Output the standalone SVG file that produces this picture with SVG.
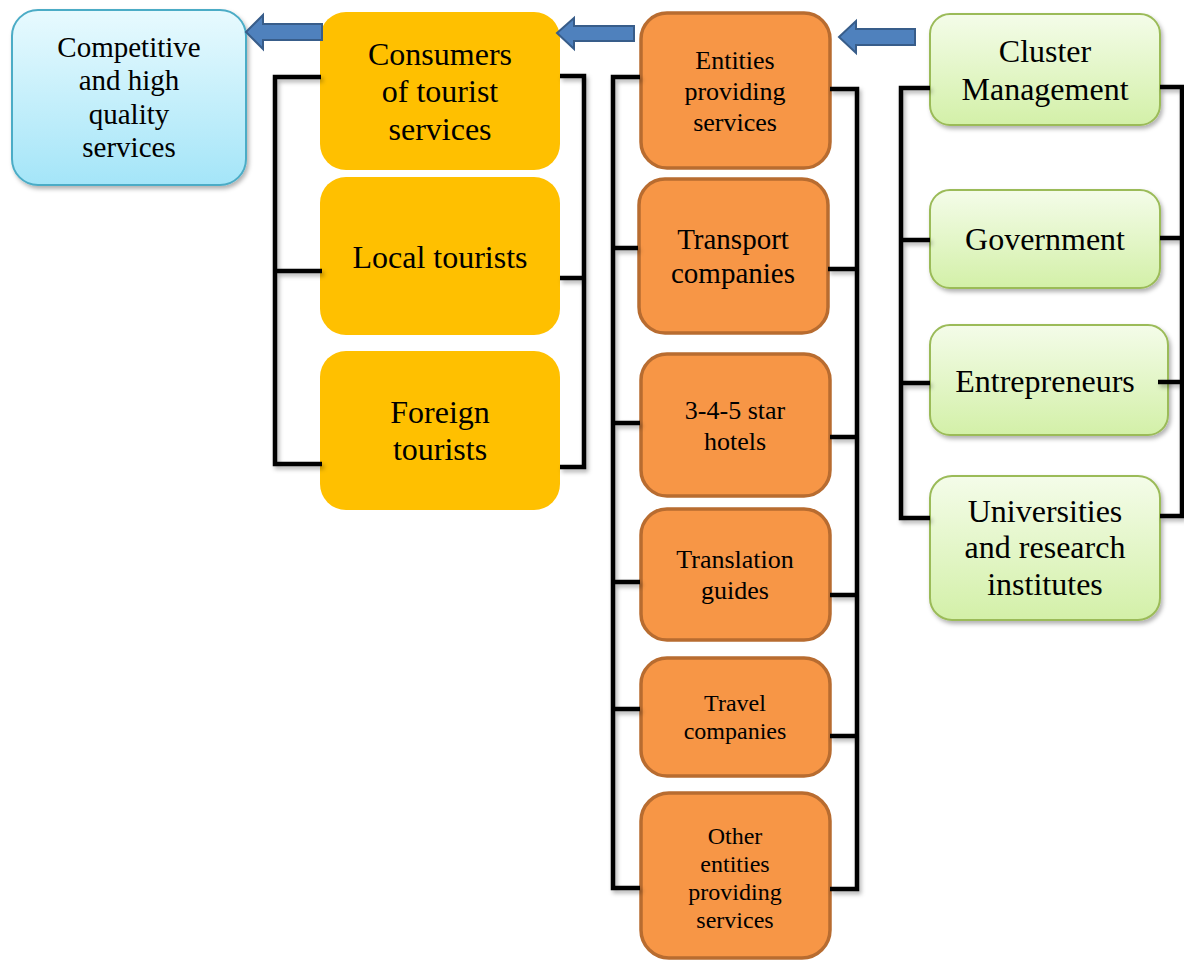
<svg xmlns="http://www.w3.org/2000/svg" width="1184" height="960" viewBox="0 0 1184 960">
<defs>
<linearGradient id="gBlue" x1="0" y1="0" x2="0" y2="1"><stop offset="0" stop-color="#e8fafe"/><stop offset="1" stop-color="#a4e5f8"/></linearGradient>
<linearGradient id="gGreen" x1="0" y1="0" x2="0" y2="1"><stop offset="0" stop-color="#f4fce9"/><stop offset="1" stop-color="#d3f0a8"/></linearGradient>
<filter id="sh" x="-10%" y="-10%" width="130%" height="130%"><feDropShadow dx="2" dy="3" stdDeviation="2" flood-color="#000" flood-opacity="0.3"/></filter>
</defs>
<style>
.t{font-family:"Liberation Serif","Times New Roman",serif;fill:#000;text-anchor:middle}
.blue{fill:url(#gBlue);stroke:#4bacc6;stroke-width:2}
.yel{fill:#ffc000}
.org{fill:#f79646;stroke:#b86c30;stroke-width:3.5}
.grn{fill:url(#gGreen);stroke:#9bbb59;stroke-width:2}
.arr{fill:#4f81bd;stroke:#385d8a;stroke-width:2}
.ln{fill:none;stroke:#000;stroke-width:4.5;stroke-linejoin:miter;stroke-linecap:butt}
</style>
<rect width="1184" height="960" fill="#fff"/>

<g id="n-competitive"><rect class="blue" x="12" y="10" width="234" height="175" rx="26" filter="url(#sh)"/>
<text class="t" font-size="29"><tspan x="129" y="57">Competitive</tspan><tspan x="129" y="90">and high</tspan><tspan x="129" y="124">quality</tspan><tspan x="129" y="157">services</tspan></text></g>

<g id="n-consumers"><rect class="yel" x="320" y="12" width="240" height="158" rx="26"/>
<text class="t" font-size="32"><tspan x="440" y="65">Consumers</tspan><tspan x="440" y="102">of tourist</tspan><tspan x="440" y="140">services</tspan></text></g>
<g id="n-local"><rect class="yel" x="320" y="177" width="240" height="158" rx="26"/>
<text class="t" font-size="32" x="440" y="268">Local tourists</text></g>
<g id="n-foreign"><rect class="yel" x="320" y="351" width="240" height="159" rx="26"/>
<text class="t" font-size="32"><tspan x="440" y="423">Foreign</tspan><tspan x="440" y="460">tourists</tspan></text></g>

<g id="n-entities"><rect class="org" x="641" y="13" width="189" height="155" rx="26"/>
<text class="t" font-size="26"><tspan x="735" y="69">Entities</tspan><tspan x="735" y="100">providing</tspan><tspan x="735" y="131">services</tspan></text></g>
<g id="n-transport"><rect class="org" x="639" y="179" width="189" height="154" rx="26"/>
<text class="t" font-size="29"><tspan x="733" y="249">Transport</tspan><tspan x="733" y="283">companies</tspan></text></g>
<g id="n-hotels"><rect class="org" x="641" y="354" width="189" height="142" rx="26"/>
<text class="t" font-size="26"><tspan x="735" y="419">3-4-5 star</tspan><tspan x="735" y="450">hotels</tspan></text></g>
<g id="n-translation"><rect class="org" x="641" y="509" width="189" height="131" rx="26"/>
<text class="t" font-size="26"><tspan x="735" y="568">Translation</tspan><tspan x="735" y="599">guides</tspan></text></g>
<g id="n-travel"><rect class="org" x="641" y="658" width="189" height="118" rx="26"/>
<text class="t" font-size="24"><tspan x="735" y="711">Travel</tspan><tspan x="735" y="739">companies</tspan></text></g>
<g id="n-other"><rect class="org" x="641" y="793" width="189" height="165" rx="28"/>
<text class="t" font-size="24"><tspan x="735" y="844">Other</tspan><tspan x="735" y="872">entities</tspan><tspan x="735" y="900">providing</tspan><tspan x="735" y="928">services</tspan></text></g>

<g id="n-cluster"><rect class="grn" x="930" y="14" width="230" height="111" rx="20" filter="url(#sh)"/>
<text class="t" font-size="32"><tspan x="1045" y="62">Cluster</tspan><tspan x="1045" y="100">Management</tspan></text></g>
<g id="n-government"><rect class="grn" x="930" y="190" width="230" height="98" rx="20" filter="url(#sh)"/>
<text class="t" font-size="32" x="1045" y="250">Government</text></g>
<g id="n-entrepreneurs"><rect class="grn" x="930" y="325" width="238" height="110" rx="20" filter="url(#sh)"/>
<text class="t" font-size="32" x="1045" y="392">Entrepreneurs</text></g>
<g id="n-universities"><rect class="grn" x="930" y="476" width="230" height="144" rx="22" filter="url(#sh)"/>
<text class="t" font-size="32"><tspan x="1045" y="522">Universities</tspan><tspan x="1045" y="558">and research</tspan><tspan x="1045" y="595">institutes</tspan></text></g>

<g id="connectors">
<g filter="url(#sh)">
<path class="ln" d="M321,77 H275 V464 H322 M275,271 H322"/>
<path class="ln" d="M560,76 H584 V467 H560 M560,278 H584"/>
<path class="ln" d="M640,77 H613 V888 H640 M613,248 H638 M613,423 H640 M613,582 H640 M613,709 H640"/>
<path class="ln" d="M830,89 H857 V889 H830 M828,269 H857 M830,437 H857 M830,595 H857 M830,736 H857"/>
<path class="ln" d="M930,88 H901 V518 H930 M901,240 H930 M901,383 H930"/>
<path class="ln" d="M1160,87 H1182 V516 H1160 M1160,238 H1182 M1158,382 H1182"/>
</g>
<polygon class="arr" points="246,32 263,15 263,24 322,24 322,40 263,40 263,49"/>
<polygon class="arr" points="557,33 574,18 574,26 634,26 634,41 574,41 574,49"/>
<polygon class="arr" points="839,37 856,21 856,29 915,29 915,45 856,45 856,53"/>
</g>
</svg>
